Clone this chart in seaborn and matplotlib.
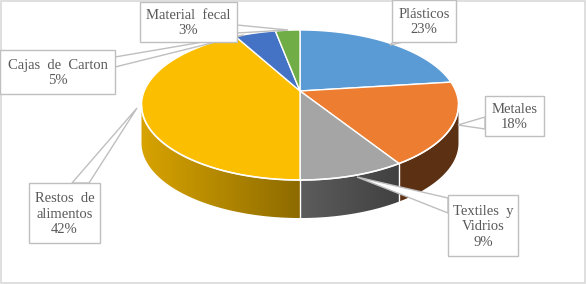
import numpy as np
import matplotlib
matplotlib.use("Agg")
import matplotlib.pyplot as plt
import seaborn as sns
from matplotlib.patches import Polygon, Rectangle
from matplotlib.colors import to_rgb
from matplotlib.path import Path
from matplotlib.transforms import Transform

# ---------------- data ----------------
categories = ["Plásticos", "Metales", "Textiles y Vidrios",
              "Restos de alimentos", "Cajas de Carton", "Material fecal"]
values = [23, 18, 9, 42, 5, 3]
colors = ["#5B9BD5", "#ED7D31", "#A5A5A5", "#FBBE00", "#4472C4", "#70AD47"]

# label text as shown (Excel wraps/justifies these)
label_names = ["Plásticos", "Metales", "Textiles  y\nVidrios",
               "Restos  de\nalimentos", "Cajas  de  Carton", "Material  fecal"]

# ---------------- layout (pixels) ----------------
W, H = 586, 284
cx, cy = 300, 91          # projected pie centre
B, A = 155.7, 72.4        # px per unit (x, y)
k = 0.1867                # perspective strength
depth_px = 38

boxes = [(392, 0, 456, 42), (485, 96, 544, 136), (448, 195, 518, 256),
         (29, 183, 100, 243), (0, 50, 115, 94), (140, 2, 237, 42)]
callouts = [((390, 45), (393, 42), (403, 42)),
            ((458, 125), (485, 117), (485, 129)),
            ((357, 177), (448, 198), (448, 213)),
            ((137, 108), (72, 183), (89, 183)),
            ((244, 35), (115, 57), (115, 67)),
            ((288, 30), (237, 25), (237, 33))]

sns.set_theme(style="white")
plt.rcParams["font.family"] = ["Liberation Serif", "DejaVu Serif"]


class Persp(Transform):
    input_dims = 2
    output_dims = 2
    is_separable = False
    has_inverse = False

    def __init__(self, kk):
        super().__init__()
        self.kk = kk

    def transform_non_affine(self, xy):
        xy = np.asarray(xy, dtype=float)
        den = 1 + self.kk * xy[:, 1]
        return np.column_stack([xy[:, 0] / den, xy[:, 1] / den])

    def transform_path_non_affine(self, path):
        pts = [seg(np.linspace(0, 1, 24)) for seg, _ in path.iter_bezier()]
        v = np.vstack(pts)
        v = np.vstack([v, v[:1]])
        return Path(self.transform_non_affine(v), closed=True)


persp = Persp(k)

XL = (-1.15, 1.15)
YL = (-1.9, 1.0)
fig = plt.figure(figsize=(W / 100, H / 100), dpi=100)
fig.patch.set_facecolor("white")
left_px = cx + XL[0] * B
top_px = cy - YL[1] * A
ax = fig.add_axes([left_px / W, (H - (top_px + (YL[1] - YL[0]) * A)) / H,
                   (XL[1] - XL[0]) * B / W, (YL[1] - YL[0]) * A / H])

wedges, _ = ax.pie(values, colors=colors, startangle=90, counterclock=False,
                   wedgeprops=dict(edgecolor="white", linewidth=1.0, zorder=3))
for w in wedges:
    w.set_transform(persp + ax.transData)

d = depth_px / A


def proj(tdeg):
    t = np.radians(tdeg)
    X, Z = np.cos(t), np.sin(t)
    den = 1 + k * Z
    return X / den, Z / den


def shade(x):
    return np.interp(x, [-1.02, 0, 0.64, 1.1], [0.86, 0.56, 0.39, 0.39])


tsil = np.degrees(np.arcsin(k))
ranges = [(-540 + tsil, -360 - tsil), (-180 + tsil, -tsil), (180 + tsil, 360 - tsil)]
gx = np.linspace(XL[0], XL[1], 400)
boundaries = []
for w, col in zip(wedges, colors):
    t1, t2 = w.theta1, w.theta2
    base = np.array(to_rgb(col))
    for lo, hi in ranges:
        a, b = max(t1, lo), min(t2, hi)
        if b <= a:
            continue
        angs = np.linspace(a, b, 200)
        px, py = proj(angs)
        poly = np.vstack([np.c_[px, py], np.c_[px[::-1], py[::-1] - d]])
        patch = Polygon(poly, closed=True, fc="none", ec="none")
        ax.add_patch(patch)
        grad = np.clip(base[None, None, :] * shade(gx)[None, :, None], 0, 1)
        im = ax.imshow(grad, extent=[XL[0], XL[1], YL[0], YL[1]],
                       aspect="auto", interpolation="bilinear", zorder=1)
        im.set_clip_path(patch)
        for t in (a, b):
            if lo < t < hi:
                boundaries.append(t)

for t in set(np.round(boundaries, 4)):
    x0, y0 = proj(t)
    ax.plot([x0, x0], [y0, y0 - d], color="white", lw=1.0, zorder=2)

fx, fy = proj(np.linspace(180 + tsil, 360 - tsil, 300))
ax.plot(fx, fy, color="white", lw=1.2, alpha=0.9, zorder=4)

ax.set_aspect("auto")
ax.set_xlim(*XL)
ax.set_ylim(*YL)
ax.axis("off")

# overlay for labels
ov = fig.add_axes([0, 0, 1, 1], zorder=5)
ov.set_xlim(0, W)
ov.set_ylim(H, 0)
ov.axis("off")
ov.patch.set_alpha(0)

ov.add_patch(Rectangle((0.5, 0.5), W - 1.5, H - 1.5, fill=False,
                       ec="#D9D9D9", lw=1.2))

for name, v, bx, co in zip(label_names, values, boxes, callouts):
    anchor, p1, p2 = co
    ov.add_patch(Polygon([anchor, p1, p2], closed=True, fc="white",
                         ec="#BFBFBF", lw=1.0, zorder=2))
    x0, y0, x1, y1 = bx
    ov.add_patch(Rectangle((x0, y0), x1 - x0, y1 - y0, fc="white",
                           ec="#BFBFBF", lw=1.0, zorder=3))
    ov.text((x0 + x1) / 2, (y0 + y1) / 2 + 1, f"{name}\n{v}%",
            ha="center", va="center", fontsize=10.5, color="#595959",
            linespacing=1.25, zorder=4)

fig.savefig("out.png", dpi=100)
